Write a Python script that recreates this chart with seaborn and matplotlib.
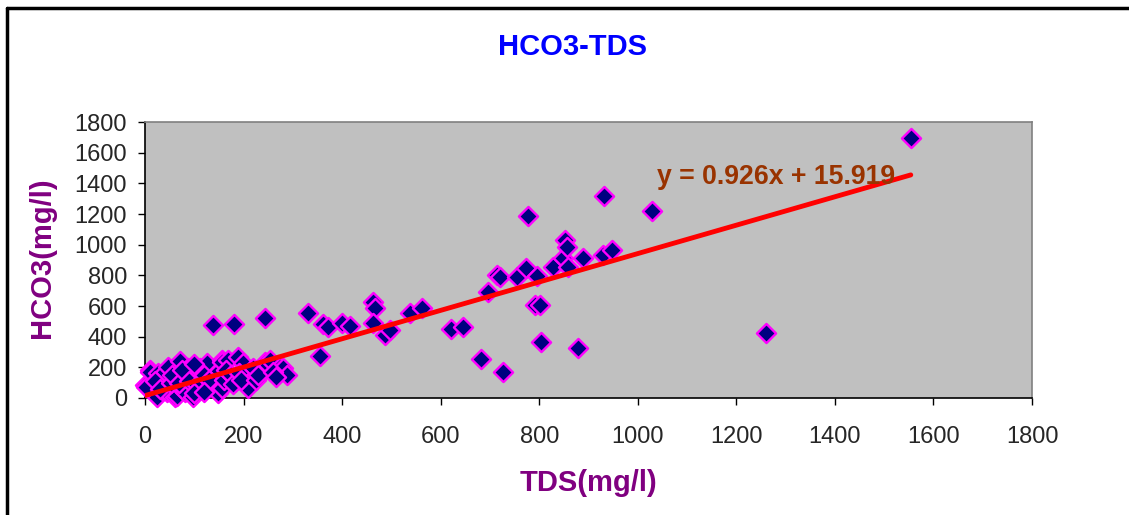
import matplotlib
matplotlib.use("Agg")
import matplotlib.pyplot as plt
from matplotlib.lines import Line2D
import numpy as np
import seaborn as sns

# ── data ────────────────────────────────────────────────────────────────────
tds = [0, 2, 10, 10, 24, 26, 35, 41, 45, 47, 61, 61, 65, 71, 77, 81, 87, 95,
       97, 112, 116, 126, 136, 142, 146, 148, 156, 156, 156, 168, 183, 189,
       199, 207, 209, 209, 219, 237, 244, 250, 254, 274, 280, 288,
       20, 30, 52, 55, 70, 75, 90, 100, 105, 120, 130, 160, 165, 175, 178,
       190, 195, 225, 230, 260, 265, 100, 120,
       181, 138, 244, 331, 361, 371, 400, 416, 355, 463, 467, 463, 487, 497,
       538, 562, 621, 645, 682, 726, 696, 714, 720, 755, 773, 777, 795, 828,
       849, 852, 856, 858, 889, 929, 948, 931, 1029, 791, 801, 804, 879,
       1260, 1554]
hco3 = [85, 72, 183, 170, 5, 163, 52, 170, 39, 202, 130, 7, 10, 240, 52, 39,
        196, 150, 7, 196, 65, 228, 85, 65, 163, 33, 248, 235, 65, 248, 104,
        267, 228, 85, 137, 65, 196, 170, 235, 215, 248, 202, 196, 150,
        110, 60, 95, 150, 100, 180, 110, 225, 85, 150, 120, 120, 180, 150, 90,
        160, 120, 115, 150, 170, 140, 30, 40,
        483, 476, 522, 555, 482, 463, 489, 470, 274, 626, 587, 489, 411, 444,
        554, 587, 450, 463, 254, 170, 691, 802, 789, 789, 848, 1187, 796, 855,
        913, 1031, 985, 855, 913, 933, 965, 1318, 1220, 607, 607, 365, 326,
        424, 1696]

# trend line as printed on the chart
SLOPE = 0.926
INTERCEPT = 15.919
EQ_LABEL = "y = 0.926x + 15.919"

TITLE = "HCO3-TDS"
XLABEL = "TDS(mg/l)"
YLABEL = "HCO3(mg/l)"
TICKS = [0, 200, 400, 600, 800, 1000, 1200, 1400, 1600, 1800]

sns.set_style("ticks")
plt.rcParams["font.family"] = ["Liberation Sans", "DejaVu Sans"]

W, H = 1129, 515
fig = plt.figure(figsize=(W / 100, H / 100), dpi=100)
ax = fig.add_axes([145 / W, 1 - 398 / H, (1032 - 145) / W, (398 - 122) / H])
ax.set_facecolor("#C0C0C0")

sns.scatterplot(x=tds, y=hco3, marker="D", s=95, color="#000080",
                edgecolor="#FF00FF", linewidth=1.7, ax=ax, clip_on=False,
                zorder=3)

xs = np.array([0, max(tds)])
sns.lineplot(x=xs, y=SLOPE * xs + INTERCEPT, color="#FF0000", lw=3.5,
             solid_capstyle="round", ax=ax, zorder=4)

ax.text(1039, 1441, EQ_LABEL, color="#993300", fontsize=19.2,
        fontweight="bold", ha="left", va="center", zorder=5)

ax.set_xlim(0, 1800)
ax.set_ylim(0, 1800)
ax.set_xticks(TICKS)
ax.set_yticks(TICKS)
ax.tick_params(axis="both", labelsize=17, length=5, width=1, color="black")
ax.tick_params(axis="x", pad=15)
ax.tick_params(axis="y", pad=8)
ax.set_xlabel("")
ax.set_ylabel("")

for side in ["top", "right"]:
    ax.spines[side].set_visible(True)
    ax.spines[side].set_color("#808080")
for side in ["left", "bottom"]:
    ax.spines[side].set_color("black")
for sp in ax.spines.values():
    sp.set_linewidth(1.2)

fig.text(573 / W, 1 - 47 / H, TITLE, color="#0000FF", fontsize=21,
         fontweight="bold", ha="center", va="center")
fig.text(589 / W, 1 - 483 / H, XLABEL, color="#800080", fontsize=21,
         fontweight="bold", ha="center", va="center")
fig.text(42 / W, 1 - 258 / H, YLABEL, color="#800080", fontsize=21,
         fontweight="bold", ha="center", va="center", rotation=90)

# chart frame (only left and top edges fall inside the picture)
fig.add_artist(Line2D([7 / W, 7 / W], [-0.1, 1 - 8 / H], color="black",
                      lw=2.5, transform=fig.transFigure))
fig.add_artist(Line2D([7 / W, 1.1], [1 - 8 / H, 1 - 8 / H], color="black",
                      lw=2.5, transform=fig.transFigure))

fig.savefig("out.png", dpi=100)
